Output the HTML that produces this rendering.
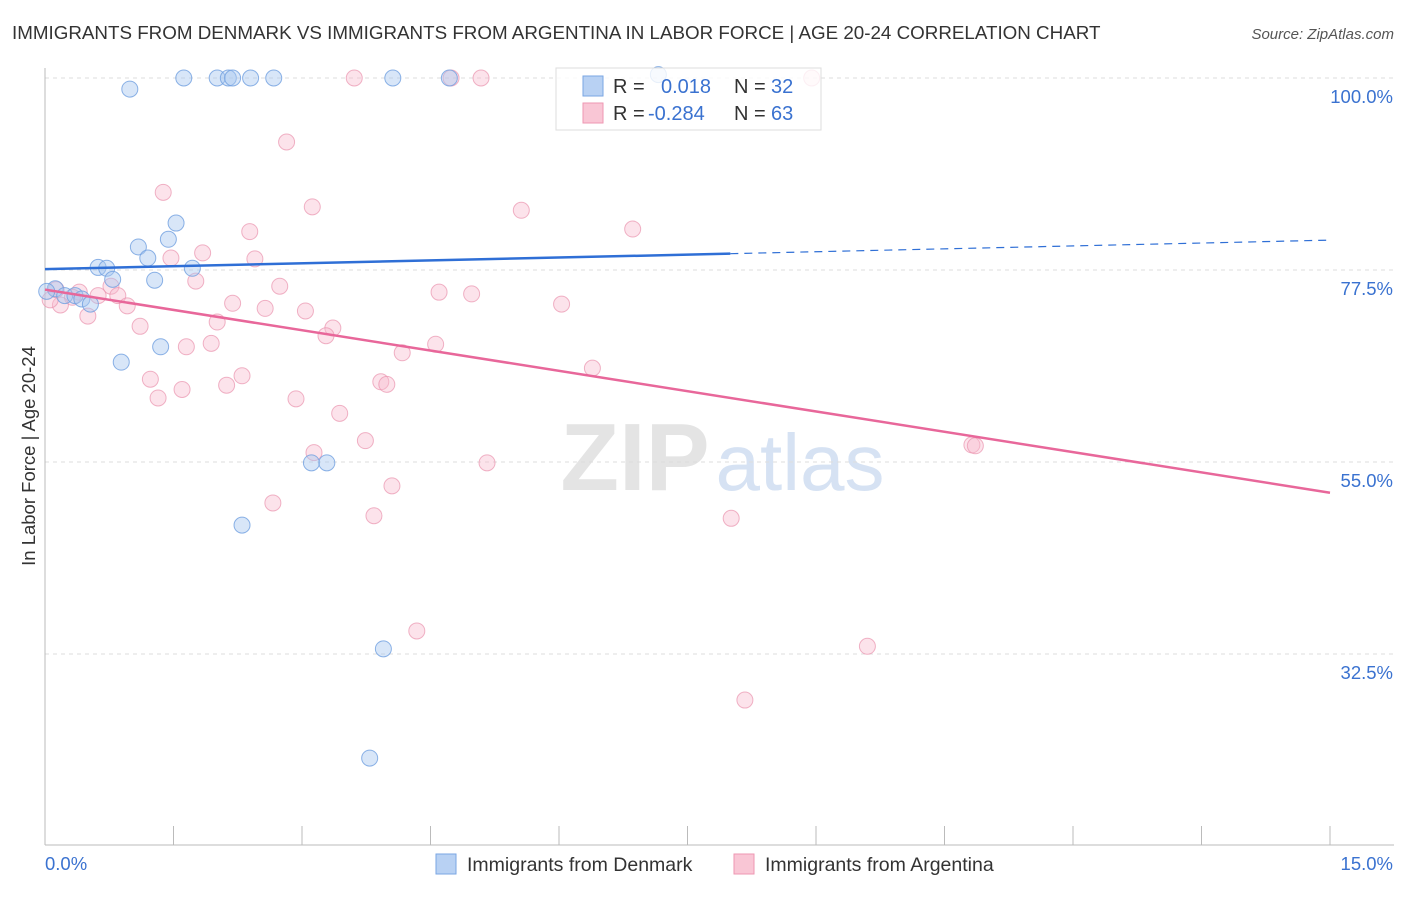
<!DOCTYPE html>
<html><head><meta charset="utf-8">
<style>
body{margin:0;background:#fff;font-family:"Liberation Sans",sans-serif;}
svg text{font-family:"Liberation Sans",sans-serif;}
</style></head>
<body>
<svg id="chart" width="1406" height="892" xmlns="http://www.w3.org/2000/svg">
<text x="12" y="39" font-size="18.8" fill="#333">IMMIGRANTS FROM DENMARK VS IMMIGRANTS FROM ARGENTINA IN LABOR FORCE | AGE 20-24 CORRELATION CHART</text>
<text x="1394" y="39" font-size="15" fill="#555" font-style="italic" text-anchor="end">Source: ZipAtlas.com</text>
<text x="35" y="456" font-size="18.5" fill="#333" text-anchor="middle" transform="rotate(-90 35 456)">In Labor Force | Age 20-24</text>
<g>
<text x="635" y="490" font-size="96" fill="#e4e4e4" font-family="Liberation Serif" text-anchor="middle" font-weight="bold">ZIP</text>
<text x="800" y="490" font-size="80" fill="#d6e2f3" text-anchor="middle">atlas</text>
</g>
<g id="grid"></g>
<g id="axes"></g>
<g id="marks"></g>
<g>
<rect x="556" y="68" width="265" height="62" fill="#fff" fill-opacity="0.8" stroke="#ddd"/>
<rect x="583" y="76" width="20" height="20" fill="#b8d1f3" stroke="#7aa6e3"/>
<text x="613" y="93" font-size="20" fill="#333">R = </text>
<text x="661" y="93" font-size="20" fill="#3a72d0">0.018</text>
<text x="734" y="93" font-size="20" fill="#333">N = </text>
<text x="771" y="93" font-size="20" fill="#3a72d0">32</text>
<rect x="583" y="103" width="20" height="20" fill="#f9c6d5" stroke="#ee97b2"/>
<text x="613" y="120" font-size="20" fill="#333">R = </text>
<text x="648" y="120" font-size="20" fill="#3a72d0">-0.284</text>
<text x="734" y="120" font-size="20" fill="#333">N = </text>
<text x="771" y="120" font-size="20" fill="#3a72d0">63</text>
</g>
<g>
<rect x="436" y="854" width="20" height="20" fill="#b8d1f3" stroke="#7aa6e3"/>
<text x="467" y="871" font-size="19.5" fill="#333">Immigrants from Denmark</text>
<rect x="734" y="854" width="20" height="20" fill="#f9c6d5" stroke="#ee97b2"/>
<text x="765" y="871" font-size="19.5" fill="#333">Immigrants from Argentina</text>
</g>
</svg>
<script>
const yTicks=[100,77.5,55,32.5];
const yTickLabels=["100.0%","77.5%","55.0%","32.5%"];
const xTicks=[0,1.5,3,4.5,6,7.5,9,10.5,12,13.5,15];
const blueX=[0.99,1.62,2.01,2.14,2.19,2.40,2.67,4.06,4.72,7.16,1.53,1.09,1.44,1.20,0.62,0.72,1.72,0.79,1.28,0.12,0.02,0.23,0.35,0.43,0.53,1.35,0.89,3.11,3.29,2.30,3.95,3.79];
const blueY=[98.7,100,100,100,100,100,100,100,100,100.4,83.0,80.2,81.1,78.9,77.8,77.7,77.7,76.4,76.3,75.3,75.0,74.5,74.5,74.1,73.5,68.5,66.7,54.9,54.9,47.6,33.1,20.3];
const pinkX=[3.61,4.74,5.09,8.95,2.82,1.38,3.12,5.56,6.86,2.39,1.84,1.47,2.45,1.76,2.74,0.77,0.85,0.96,0.62,0.50,0.40,0.32,0.18,0.06,0.13,2.19,2.57,3.04,4.60,4.98,6.03,2.01,1.11,3.36,3.28,1.65,1.94,4.56,4.17,6.39,1.23,2.30,3.92,3.99,2.12,1.60,1.32,2.93,3.44,3.74,3.14,5.16,10.82,10.86,4.05,2.66,3.84,8.01,4.34,9.60,8.17];
const pinkY=[100,100,100,100,92.5,86.6,84.9,84.5,82.3,82.0,79.5,78.9,78.8,76.2,75.6,75.6,74.5,73.3,74.5,72.1,74.9,74.3,73.4,74.0,75.2,73.6,73.0,72.7,74.9,74.7,73.5,71.4,70.9,70.7,69.8,68.5,68.9,68.8,67.8,66.0,64.7,65.1,64.4,64.1,64.0,63.5,62.5,62.4,60.7,57.5,56.1,54.9,57.0,56.9,52.2,50.2,48.7,48.4,35.2,33.4,27.1];
const blueTrend=[77.6,81.0];
const blueSolidEnd=8.0;
const pinkTrend=[75.2,51.4];

const NS="http://www.w3.org/2000/svg";
const X=v=>45+v/15*1285;
const Y=v=>78+(100-v)*8.533;
function mk(tag,attrs,parent){const e=document.createElementNS(NS,tag);for(const k in attrs)e.setAttribute(k,attrs[k]);parent.appendChild(e);return e;}
const grid=document.getElementById('grid'),axes=document.getElementById('axes'),marks=document.getElementById('marks');
yTicks.forEach((t,i)=>{
  const l=mk('line',{x1:45,x2:1394,y1:Y(t),y2:Y(t),stroke:'#ddd','stroke-dasharray':'4,4'},grid);
  
  
  const tx=mk('text',{x:1393,y:Y(t)+25,'font-size':18.5,fill:'#3a72d0','text-anchor':'end'},axes);
  tx.textContent=yTickLabels[i];
  
  
});
const ax=mk('line',{x1:45,x2:45,y1:68,y2:845,stroke:'#bbb'},axes);


const bx=mk('line',{x1:45,x2:1394,y1:845,y2:845,stroke:'#bbb'},axes);


xTicks.forEach(t=>{
  const l=mk('line',{x1:X(t),x2:X(t),y1:826,y2:845,stroke:'#bbb'},axes);
  
  
});
const xl0=mk('text',{x:45,y:870,'font-size':18.5,fill:'#3a72d0'},axes);xl0.textContent='0.0%';


const xl1=mk('text',{x:1393,y:870,'font-size':18.5,fill:'#3a72d0','text-anchor':'end'},axes);xl1.textContent='15.0%';



pinkX.forEach((x,i)=>{
  const c=mk('circle',{cx:X(x),cy:Y(pinkY[i]),r:8,fill:'#f7b9cc','fill-opacity':0.4,stroke:'#ea93ae','stroke-opacity':0.7},marks);
  
  
});
blueX.forEach((x,i)=>{
  const c=mk('circle',{cx:X(x),cy:Y(blueY[i]),r:8,fill:'#a9c8f0','fill-opacity':0.45,stroke:'#6f9fe0','stroke-opacity':0.8},marks);
  
  
});
const bAt=v=>blueTrend[0]+(blueTrend[1]-blueTrend[0])*v/15;
const b1=mk('line',{x1:X(0),y1:Y(bAt(0)),x2:X(blueSolidEnd),y2:Y(bAt(blueSolidEnd)),stroke:'#2f6fd6','stroke-width':2.5},marks);


const b2=mk('line',{x1:X(blueSolidEnd),y1:Y(bAt(blueSolidEnd)),x2:X(15),y2:Y(bAt(15)),stroke:'#2f6fd6','stroke-width':1.2,'stroke-dasharray':'8,6'},marks);


const p1=mk('line',{x1:X(0),y1:Y(pinkTrend[0]),x2:X(15),y2:Y(pinkTrend[1]),stroke:'#e8679a','stroke-width':2.5},marks);


</script>
</body></html>
